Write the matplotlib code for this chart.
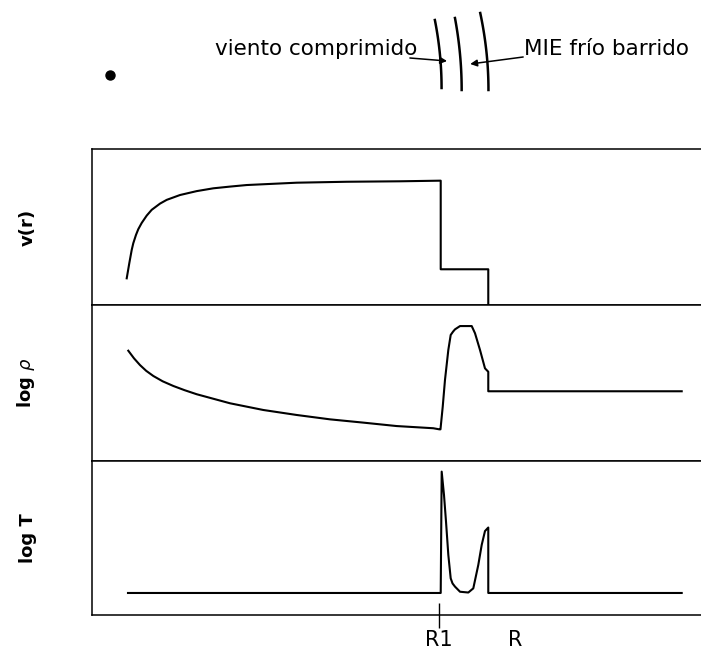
import matplotlib
matplotlib.use("Agg")
import matplotlib.pyplot as plt
import numpy as np

# radius axis runs 0..100 (arbitrary units)
R1 = 57.0
R = 65.1

# v(r): accelerating wind, plateau, jump at R1, shocked shell, zero beyond R
r_v = [5.70, 6.12, 6.52, 6.78, 7.22, 7.60, 8.16, 8.98, 9.80, 11.17, 12.27,
       14.45, 17.19, 19.92, 22.66, 25.40, 33.61, 41.82, 50.57, 57.26, 57.26,
       65.07, 65.07]
v = [17.1, 26.7, 35.3, 39.6, 44.9, 48.6, 52.6, 57.3, 61.0, 65.0, 67.4,
     70.5, 73.0, 74.8, 75.9, 76.9, 78.4, 79.0, 79.3, 79.7, 22.9,
     22.9, 0.0]

# log rho
r_rho = [5.96, 6.90, 7.88, 8.90, 10.07, 11.60, 13.35, 15.20, 17.19, 22.66,
         28.13, 33.61, 39.08, 44.55, 50.03, 56.04, 57.03, 57.22, 57.59, 57.96,
         58.51, 58.90, 59.30, 59.61, 60.43, 62.35, 62.89, 63.71, 64.53, 65.07,
         65.07, 96.83]
logrho = [70.7, 65.8, 61.5, 57.8, 54.5, 51.1, 48.1, 45.4, 42.8, 37.0,
          32.7, 29.5, 26.7, 24.6, 22.4, 21.0, 20.3, 20.3, 34.8, 51.9,
          71.2, 80.8, 83.0, 84.4, 86.5, 86.5, 81.9, 71.2, 59.4, 57.2,
          44.7, 44.7]

# log T
r_T = [5.91, 57.26, 57.42, 57.80, 58.13, 58.51, 58.90, 59.20, 59.61, 60.43,
       61.79, 62.61, 63.43, 63.99, 64.53, 65.07, 65.07, 96.83]
logT = [14.3, 14.3, 93.1, 77.9, 60.6, 39.0, 23.8, 20.5, 18.4, 15.1,
        14.6, 17.3, 32.5, 45.5, 54.5, 56.8, 14.3, 14.3]

panel_labels = ["v(r)", r"log $\rho$", "log T"]
tick_pos = [R1, 69.5]
tick_labels = ["R1", "R"]

# sketch above the panels: central star and three shells
star_r, star_y = 2.96, 75
shell_r = [57.4, 60.7, 65.1]
shell_top = [20, 18, 13]
shell_bot = [88, 90, 90]
shell_lean = [1.1, 1.1, 1.35]

W, H = 701, 649
fig = plt.figure(figsize=(W / 100, H / 100), dpi=100)
fig.patch.set_facecolor("white")

left = 92 / W
width = 609 / W
edges = [149, 305, 461, 615]

axes = []
for k in range(3):
    y0 = (H - edges[k + 1]) / H
    h = (edges[k + 1] - edges[k]) / H
    ax = fig.add_axes([left, y0, width, h])
    ax.set_xlim(0, 100)
    ax.set_ylim(0, 100)
    ax.spines["right"].set_visible(False)
    for s in ["left", "top", "bottom"]:
        ax.spines[s].set_linewidth(1.1)
    ax.set_yticks([])
    ax.set_xticks([])
    ax.set_ylabel(panel_labels[k], fontsize=13, fontweight="bold")
    ax.yaxis.set_label_coords(-0.09, 0.5)
    axes.append(ax)

axes[0].plot(r_v, v, color="black", lw=1.5)
axes[1].plot(r_rho, logrho, color="black", lw=1.5)
axes[2].plot(r_T, logT, color="black", lw=1.5)

ax = axes[2]
ax.set_xticks(tick_pos)
ax.set_xticklabels(tick_labels, fontsize=15)
ax.tick_params(axis="x", direction="inout", length=18, width=1.0, pad=2)
ax.xaxis.get_major_ticks()[1].tick1line.set_visible(False)

# schematic strip on top, y in pixels from the top edge
sk = fig.add_axes([left, (H - 149) / H, width, 149 / H])
sk.set_xlim(0, 100)
sk.set_ylim(149, 0)
sk.axis("off")
sk.plot([star_r], [star_y], "o", color="black", ms=6.5)
for r, t, b, lean in zip(shell_r, shell_top, shell_bot, shell_lean):
    yy = np.linspace(t, b, 40)
    xx = r - lean * ((b - yy) / (b - t)) ** 2
    sk.plot(xx, yy, color="black", lw=1.8)

sk.annotate("", xy=(58.3, 61), xytext=(52.2, 58),
            arrowprops=dict(arrowstyle="-|>", color="black", lw=1.1,
                            mutation_scale=10, shrinkA=0, shrinkB=0))
sk.annotate("", xy=(62.1, 64), xytext=(70.8, 57),
            arrowprops=dict(arrowstyle="-|>", color="black", lw=1.1,
                            mutation_scale=10, shrinkA=0, shrinkB=0))
sk.text(53.5, 55, "viento comprimido", fontsize=15.5, ha="right", va="baseline")
sk.text(70.9, 55, "MIE frío barrido", fontsize=15.5, ha="left", va="baseline")

fig.savefig("out.png", dpi=100, facecolor="white")
